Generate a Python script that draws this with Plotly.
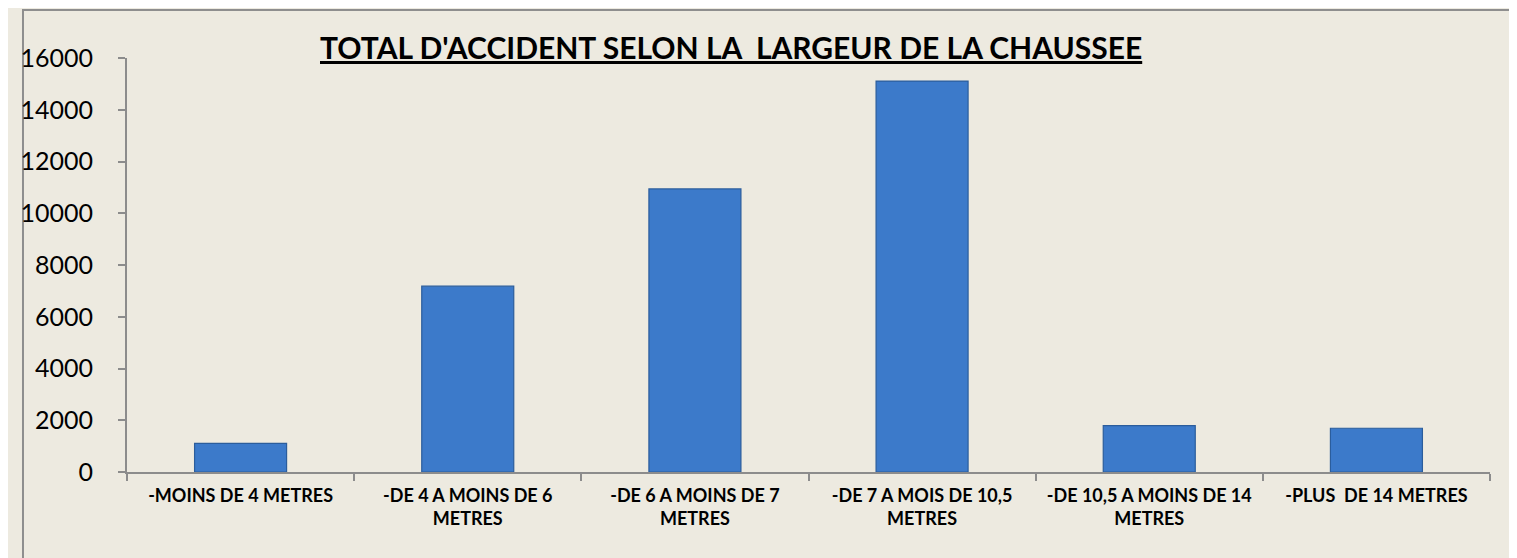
import plotly.graph_objects as go

categories = [
    "-MOINS DE 4 METRES",
    "-DE 4 A MOINS DE 6<br>METRES",
    "-DE 6 A MOINS DE 7<br>METRES",
    "-DE 7 A MOIS DE 10,5<br>METRES",
    "-DE 10,5 A MOINS DE 14<br>METRES",
    "-PLUS\u00a0 DE 14 METRES",
]
values = [1110, 7180, 10940, 15110, 1790, 1690]
y_ticks = [0, 2000, 4000, 6000, 8000, 10000, 12000, 14000, 16000]
title_text = "TOTAL D'ACCIDENT SELON LA\u00a0 LARGEUR DE LA CHAUSSEE"

BG = "#EDEAE0"
AXIS = "#8C8C8C"
FONT = "Lato"

fig = go.Figure()
fig.add_trace(go.Bar(
    x=categories,
    y=values,
    width=0.405,
    marker=dict(color="#3C7ACA", line=dict(color="#2B5D9C", width=1.2)),
    hoverinfo="x+y",
))

W, H = 1509, 550
L, R, T, B = 106, 27, 50, 86
pw, ph = W - L - R, H - T - B

def px_x(p):
    return (p - L) / pw

def px_y(p):
    return (T + ph - p) / ph

fig.update_layout(
    width=W, height=H,
    margin=dict(l=L, r=R, t=T, b=B, pad=0),
    paper_bgcolor=BG,
    plot_bgcolor=BG,
    showlegend=False,
    bargap=0.595,
    font=dict(family=FONT, color="black"),
    shapes=[
        dict(type="line", xref="paper", yref="paper", layer="below",
             x0=px_x(0), x1=px_x(W), y0=px_y(2), y1=px_y(2),
             line=dict(color="#8E8E8E", width=2)),
        dict(type="line", xref="paper", yref="paper", layer="below",
             x0=px_x(1), x1=px_x(1), y0=px_y(1), y1=px_y(H),
             line=dict(color="#8E8E8E", width=2)),
    ],
    annotations=[dict(
        text="<b><u>" + title_text + "</u></b>",
        xref="paper", yref="paper",
        x=px_x(716), y=px_y(39),
        xanchor="center", yanchor="middle",
        showarrow=False,
        font=dict(family=FONT, size=30, color="black"),
    )],
)

fig.update_xaxes(
    showline=True, linecolor=AXIS, linewidth=2,
    ticks="outside", tickson="boundaries", ticklen=7, tickcolor=AXIS, tickwidth=2,
    showgrid=False, zeroline=False,
    tickfont=dict(family=FONT, size=18, color="black", weight="bold"),
    ticklabelstandoff=6,
)
fig.update_yaxes(
    range=[0, 16000],
    tickvals=y_ticks,
    ticktext=[str(v) for v in y_ticks],
    showline=True, linecolor=AXIS, linewidth=2,
    ticks="outside", ticklen=7, tickcolor=AXIS, tickwidth=2,
    showgrid=False, zeroline=False,
    tickfont=dict(family=FONT, size=25, color="black"),
    ticklabelstandoff=20,
)

fig.write_html(
    "out.html",
    post_script="document.documentElement.style.overflow='hidden';document.body.style.overflow='hidden';",
)
